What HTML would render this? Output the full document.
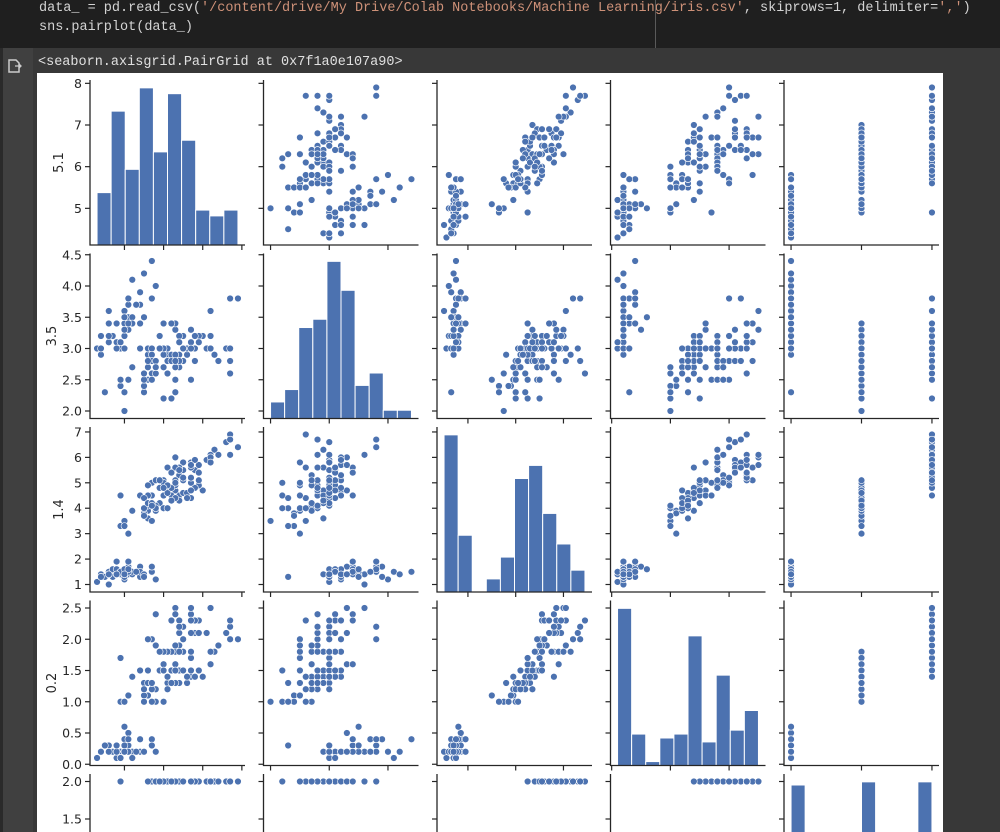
<!DOCTYPE html>
<html><head><meta charset="utf-8"><style>
html,body{margin:0;padding:0;background:#383838;width:1000px;height:832px;overflow:hidden;}
.code{position:absolute;left:0;top:0;width:1000px;height:48px;background:#1f1f1f;font-family:"Liberation Mono",monospace;font-size:13.5px;color:#d4d4d4;}
.code div{position:absolute;left:39px;white-space:pre;}
.s{color:#ce9178}
</style></head><body>
<div class="code">
<div style="top:1px">data_ = pd.read_csv(<span class="s">'/content/drive/My Drive/Colab Notebooks/Machine Learning/iris.csv'</span>, skiprows=1, delimiter=<span class="s">','</span>)</div>
<div style="top:20px">sns.pairplot(data_)</div>
<div style="position:absolute;left:655px;top:0;width:1px;height:48px;background:#5a5a5a"></div>
</div>
<div style="position:absolute;left:0;top:48px;width:33px;height:784px;background:#404040"></div>
<div style="position:absolute;left:0;top:48px;width:3px;height:784px;background:#2a2a2a"></div>
<svg style="position:absolute;left:7px;top:58px" width="16" height="16"><path d="M2 2h7l3 3v9H2z" fill="none" stroke="#ccc" stroke-width="1.5"/><path d="M8 8h6M12 6l2 2-2 2" fill="none" stroke="#ccc" stroke-width="1.3"/></svg>
<div style="position:absolute;left:38px;top:55px;font-family:'Liberation Mono',monospace;font-size:13.5px;color:#e0e0e0;white-space:pre">&lt;seaborn.axisgrid.PairGrid at 0x7f1a0e107a90&gt;</div>
<div style="position:absolute;left:37px;top:73px;width:906px;height:759px;background:#fff"></div>
<svg id="chart" style="position:absolute;left:0;top:0" width="1000" height="832"></svg>
<script>
const sepalLength=[4.9,4.7,4.6,5.0,5.4,4.6,5.0,4.4,4.9,5.4,4.8,4.8,4.3,5.8,5.7,5.4,5.1,5.7,5.1,5.4,5.1,4.6,5.1,4.8,5.0,5.0,5.2,5.2,4.7,4.8,5.4,5.2,5.5,4.9,5.0,5.5,4.9,4.4,5.1,5.0,4.5,4.4,5.0,5.1,4.8,5.1,4.6,5.3,5.0,
7.0,6.4,6.9,5.5,6.5,5.7,6.3,4.9,6.6,5.2,5.0,5.9,6.0,6.1,5.6,6.7,5.6,5.8,6.2,5.6,5.9,6.1,6.3,6.1,6.4,6.6,6.8,6.7,6.0,5.7,5.5,5.5,5.8,6.0,5.4,6.0,6.7,6.3,5.6,5.5,5.5,6.1,5.8,5.0,5.6,5.7,5.7,6.2,5.1,5.7,
6.3,5.8,7.1,6.3,6.5,7.6,4.9,7.3,6.7,7.2,6.5,6.4,6.8,5.7,5.8,6.4,6.5,7.7,7.7,6.0,6.9,5.6,7.7,6.3,6.7,7.2,6.2,6.1,6.4,7.2,7.4,7.9,6.4,6.3,6.1,7.7,6.3,6.4,6.0,6.9,6.7,6.9,5.8,6.8,6.7,6.7,6.3,6.5,6.2,5.9];
const sepalWidth=[3.0,3.2,3.1,3.6,3.9,3.4,3.4,2.9,3.1,3.7,3.4,3.0,3.0,4.0,4.4,3.9,3.5,3.8,3.8,3.4,3.7,3.6,3.3,3.4,3.0,3.4,3.5,3.4,3.2,3.1,3.4,4.1,4.2,3.1,3.2,3.5,3.1,3.0,3.4,3.5,2.3,3.2,3.5,3.8,3.0,3.8,3.2,3.7,3.3,
3.2,3.2,3.1,2.3,2.8,2.8,3.3,2.4,2.9,2.7,2.0,3.0,2.2,2.9,2.9,3.1,3.0,2.7,2.2,2.5,3.2,2.8,2.5,2.8,2.9,3.0,2.8,3.0,2.9,2.6,2.4,2.4,2.7,2.7,3.0,3.4,3.1,2.3,3.0,2.5,2.6,3.0,2.6,2.3,2.7,3.0,2.9,2.9,2.5,2.8,
3.3,2.7,3.0,2.9,3.0,3.0,2.5,2.9,2.5,3.6,3.2,2.7,3.0,2.5,2.8,3.2,3.0,3.8,2.6,2.2,3.2,2.8,2.8,2.7,3.3,3.2,2.8,3.0,2.8,3.0,2.8,3.8,2.8,2.8,2.6,3.0,3.4,3.1,3.0,3.1,3.1,3.1,2.7,3.2,3.3,3.0,2.5,3.0,3.4,3.0];
const petalLength=[1.4,1.3,1.5,1.4,1.7,1.4,1.5,1.4,1.5,1.5,1.6,1.4,1.1,1.2,1.5,1.3,1.4,1.7,1.5,1.7,1.5,1.0,1.7,1.9,1.6,1.6,1.5,1.4,1.6,1.6,1.5,1.5,1.4,1.5,1.2,1.3,1.5,1.3,1.5,1.3,1.3,1.3,1.6,1.9,1.4,1.6,1.4,1.5,1.4,
4.7,4.5,4.9,4.0,4.6,4.5,4.7,3.3,4.6,3.9,3.5,4.2,4.0,4.7,3.6,4.4,4.5,4.1,4.5,3.9,4.8,4.0,4.9,4.7,4.3,4.4,4.8,5.0,4.5,3.5,3.8,3.7,3.9,5.1,4.5,4.5,4.7,4.4,4.1,4.0,4.4,4.6,4.0,3.3,4.2,4.2,4.2,4.3,3.0,4.1,
6.0,5.1,5.9,5.6,5.8,6.6,4.5,6.3,5.8,6.1,5.1,5.3,5.5,5.0,5.1,5.3,5.5,6.7,6.9,5.0,5.7,4.9,6.7,4.9,5.7,6.0,4.8,4.9,5.6,5.8,6.1,6.4,5.6,5.1,5.6,6.1,5.6,5.5,4.8,5.4,5.6,5.1,5.1,5.9,5.7,5.2,5.0,5.2,5.4,5.1];
const petalWidth=[0.2,0.2,0.2,0.2,0.4,0.3,0.2,0.2,0.1,0.2,0.2,0.1,0.1,0.2,0.4,0.4,0.3,0.3,0.3,0.2,0.4,0.2,0.5,0.2,0.2,0.4,0.2,0.2,0.2,0.2,0.4,0.1,0.2,0.1,0.2,0.2,0.1,0.2,0.2,0.3,0.3,0.2,0.6,0.4,0.3,0.2,0.2,0.2,0.2,
1.4,1.5,1.5,1.3,1.5,1.3,1.6,1.0,1.3,1.4,1.0,1.5,1.0,1.4,1.3,1.4,1.5,1.0,1.5,1.1,1.8,1.3,1.5,1.2,1.3,1.4,1.4,1.7,1.5,1.0,1.1,1.0,1.2,1.6,1.5,1.6,1.5,1.3,1.3,1.3,1.2,1.4,1.2,1.0,1.3,1.2,1.3,1.3,1.1,1.3,
2.5,1.9,2.1,1.8,2.2,2.1,1.7,1.8,1.8,2.5,2.0,1.9,2.1,2.0,2.4,2.3,1.8,2.2,2.3,1.5,2.3,2.0,2.0,1.8,2.1,1.8,1.8,1.8,2.1,1.6,1.9,2.0,2.2,1.5,1.4,2.3,2.4,1.8,1.8,2.1,2.4,2.3,1.9,2.3,2.5,2.3,1.9,2.0,2.3,1.8];
const species=[];for(let i=0;i<149;i++)species.push(i<49?0:(i<99?1:2));
const varNames=["5.1","3.5","1.4","0.2",""];
const xTickVals=[[5,6,7,8],[2,3,4],[2,4,6],[0,1,2],[0,1,2]];
const yTickVals=[[5,6,7,8],[2.0,2.5,3.0,3.5,4.0,4.5],[1,2,3,4,5,6,7],[0.0,0.5,1.0,1.5,2.0,2.5],[0.0,0.5,1.0,1.5,2.0]];
const yTickDigits=[0,1,0,1,1];
const nBins=10;

const NS="http://www.w3.org/2000/svg";
const svg=document.getElementById('chart');
const cols=[sepalLength,sepalWidth,petalLength,petalWidth,species];
const X0=90,Y0=80,STEP=173.5,W=155,H=165;
function mk(t,a,p){const e=document.createElementNS(NS,t);for(const k in a)e.setAttribute(k,a[k]);(p||svg).appendChild(e);return e;}
const ranges=cols.map(c=>{const mn=Math.min(...c),mx=Math.max(...c),m=(mx-mn)*0.05;return [mn-m,mx+m,mn,mx];});
function sx(j,v){const r=ranges[j];return X0+j*STEP+(v-r[0])/(r[1]-r[0])*W;}
function sy(i,v){const r=ranges[i];return Y0+i*STEP+H-(v-r[0])/(r[1]-r[0])*H;}
const C="#4c72b0";
for(let i=0;i<5;i++){for(let j=0;j<5;j++){
  const g=mk('g',{});
  
  
  const left=X0+j*STEP,top=Y0+i*STEP,bot=Math.min(top+H,840);
  if(i===j){
    const c=cols[j],r=ranges[j],bw=(r[3]-r[2])/nBins,counts=new Array(nBins).fill(0);
    c.forEach(v=>{let b=Math.floor((v-r[2])/bw+1e-9);if(b>=nBins)b=nBins-1;counts[b]++;});
    const mc=Math.max(...counts)*1.05;
    counts.forEach((n,b)=>{if(!n)return;const x1=sx(j,r[2]+b*bw),x2=sx(j,r[2]+(b+1)*bw),h=n/mc*H;
      const rc=mk('rect',{x:x1,y:top+H-h,width:x2-x1,height:Math.min(h,840-(top+H-h)),fill:C,stroke:'#fff','stroke-width':1},g);
      
      });
  } else {
    const xs=cols[j],ys=cols[i];
    for(let k=0;k<xs.length;k++){
      const p=mk('circle',{cx:sx(j,xs[k]),cy:sy(i,ys[k]),r:3.4,fill:C,stroke:'#fff','stroke-width':0.6},g);
      
      
    }
  }
  if(top+H<832){
    mk('path',{d:`M${left} ${top}V${top+H}H${left+W}`,fill:'none',stroke:'#262626','stroke-width':1.3},g);
    xTickVals[j].forEach(v=>mk('line',{x1:sx(j,v),x2:sx(j,v),y1:top+H,y2:top+H+5,stroke:'#262626','stroke-width':1.2},g));
  } else {
    mk('line',{x1:left,x2:left,y1:top,y2:832,stroke:'#262626','stroke-width':1.3},g);
  }
  yTickVals[i].forEach(v=>{const y=sy(i,v);if(y>832)return;mk('line',{x1:left-5,x2:left,y1:y,y2:y,stroke:'#262626','stroke-width':1.2},g);
    if(j===0){const t=mk('text',{x:left-8,y:y+4.5,'text-anchor':'end','font-family':'DejaVu Sans, sans-serif','font-size':12.5,fill:'#262626'},g);
      t.textContent=v.toFixed(yTickDigits[i]);
      
      }});
}
  if(!varNames[i])continue;
  const yl=mk('text',{x:0,y:0,transform:`translate(${i===1||i===3?56:63},${Y0+i*STEP+H/2}) rotate(-90)`,'text-anchor':'middle','font-family':'DejaVu Sans, sans-serif','font-size':13,fill:'#262626'});
  yl.textContent=varNames[i];
  
  
}
</script>
</body></html>
